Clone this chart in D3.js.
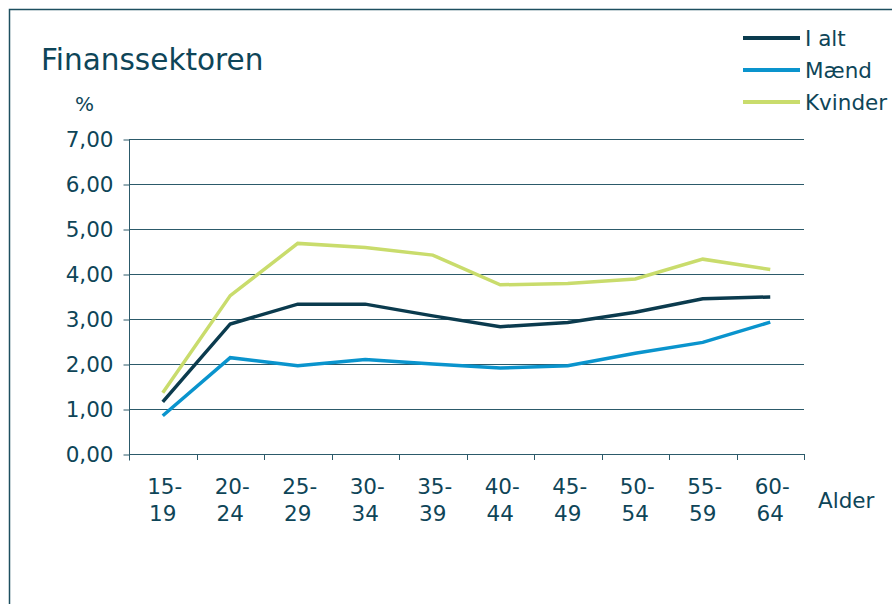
<!DOCTYPE html>
<html>
<head>
<meta charset="utf-8">
<script src="https://cdn.jsdelivr.net/npm/d3@7"></script>
<style>
  body { margin: 0; background: #fff; }
  text { font-family: "DejaVu Sans", Verdana, sans-serif; fill: #0e4558; }
</style>
</head>
<body>
<div id="chart"></div>
<script>
// age groups (two-line labels)
const ageGroups = ["15-19", "20-24", "25-29", "30-34", "35-39", "40-44", "45-49", "50-54", "55-59", "60-64"];
const iAlt    = [1.16, 2.89, 3.33, 3.33, 3.07, 2.83, 2.92, 3.15, 3.45, 3.49];
const maend   = [0.85, 2.14, 1.96, 2.10, 2.00, 1.91, 1.96, 2.24, 2.48, 2.93];
const kvinder = [1.36, 3.52, 4.68, 4.59, 4.42, 3.76, 3.79, 3.89, 4.33, 4.10];
const yTicks  = [0, 1, 2, 3, 4, 5, 6, 7];

const series = [
  {name: "I alt",   values: iAlt,    color: "#0b3b4e"},
  {name: "Mænd",    values: maend,   color: "#0a94cd"},
  {name: "Kvinder", values: kvinder, color: "#c9dc6c"}
];

const W = 892, H = 604;
const plot = {left: 129, right: 804, top: 139, bottom: 454};
const labelSize = "21.5px";

var svg = d3.select("#chart").append("svg")
  .attr("width", W)
  .attr("height", H);

// outer frame
svg.append("rect")
  .attr("x", 9.5).attr("y", 9.5)
  .attr("width", W).attr("height", H)
  .attr("fill", "none")
  .attr("stroke", "#1d4f60")
  .attr("stroke-width", 1.5);

var x = d3.scaleBand().domain(ageGroups).range([plot.left, plot.right]);
var y = d3.scaleLinear().domain([0, 7]).range([plot.bottom, plot.top]);

// gridlines
svg.append("g")
  .selectAll("line")
  .data(yTicks.filter(d => d > 0))
  .enter().append("line")
  .attr("x1", plot.left).attr("x2", plot.right)
  .attr("y1", d => Math.round(y(d)) + 0.5)
  .attr("y2", d => Math.round(y(d)) + 0.5)
  .attr("stroke", "#2c5a6a")
  .attr("stroke-width", 1);

// y axis
var yAxis = svg.append("g")
  .attr("transform", "translate(" + (plot.left + 0.5) + ",0.5)")
  .call(d3.axisLeft(y).tickValues(yTicks).tickSize(6).tickPadding(10)
    .tickFormat(d => d3.format(".2f")(d).replace(".", ",")));
yAxis.select(".domain").attr("stroke", "#2c5a6a").attr("d", "M0," + plot.top + "V" + (plot.bottom + 6));
yAxis.selectAll(".tick line").attr("stroke", "#2c5a6a");
yAxis.selectAll("text")
  .style("font-size", labelSize)
  .style("font-family", "DejaVu Sans, Verdana, sans-serif")
  .attr("fill", "#0e4558");

// x axis with ticks between categories
var xEdges = ageGroups.map(d => x(d)).concat([plot.right]);
var xAxisG = svg.append("g");
xAxisG.append("line")
  .attr("x1", plot.left).attr("x2", plot.right)
  .attr("y1", plot.bottom + 0.5).attr("y2", plot.bottom + 0.5)
  .attr("stroke", "#2c5a6a");
xAxisG.selectAll("line.tick")
  .data(xEdges)
  .enter().append("line")
  .attr("class", "tick")
  .attr("x1", d => Math.round(d) + 0.5).attr("x2", d => Math.round(d) + 0.5)
  .attr("y1", plot.bottom).attr("y2", plot.bottom + 6)
  .attr("stroke", "#2c5a6a");

var xLabels = xAxisG.selectAll("text.lab")
  .data(ageGroups)
  .enter().append("text")
  .attr("class", "lab")
  .attr("text-anchor", "middle")
  .style("font-size", labelSize);
xLabels.append("tspan")
  .attr("x", d => x(d) + x.bandwidth() / 2 + 2)
  .attr("y", 494)
  .text(d => d.split("-")[0] + "-");
xLabels.append("tspan")
  .attr("x", d => x(d) + x.bandwidth() / 2)
  .attr("y", 521)
  .text(d => d.split("-")[1]);

svg.append("text")
  .attr("x", 818).attr("y", 508)
  .style("font-size", labelSize)
  .text("Alder");

// title and unit
svg.append("text")
  .attr("x", 41).attr("y", 70)
  .style("font-size", "29.5px")
  .text("Finanssektoren");

svg.append("text")
  .attr("x", 75).attr("y", 111)
  .style("font-size", "20px")
  .text("%");

// lines
var line = d3.line()
  .x((d, i) => x(ageGroups[i]) + x.bandwidth() / 2)
  .y(d => y(d));

svg.append("g")
  .selectAll("path")
  .data(series)
  .enter().append("path")
  .attr("d", d => line(d.values))
  .attr("fill", "none")
  .attr("stroke", d => d.color)
  .attr("stroke-width", 3.5);

// legend
var legend = svg.append("g")
  .selectAll("g")
  .data(series)
  .enter().append("g")
  .attr("transform", (d, i) => "translate(743," + (38 + i * 32) + ")");
legend.append("line")
  .attr("x1", 0).attr("x2", 57)
  .attr("stroke", d => d.color)
  .attr("stroke-width", 4);
legend.append("text")
  .attr("x", 62).attr("y", 8)
  .style("font-size", labelSize)
  .text(d => d.name);
</script>
</body>
</html>
